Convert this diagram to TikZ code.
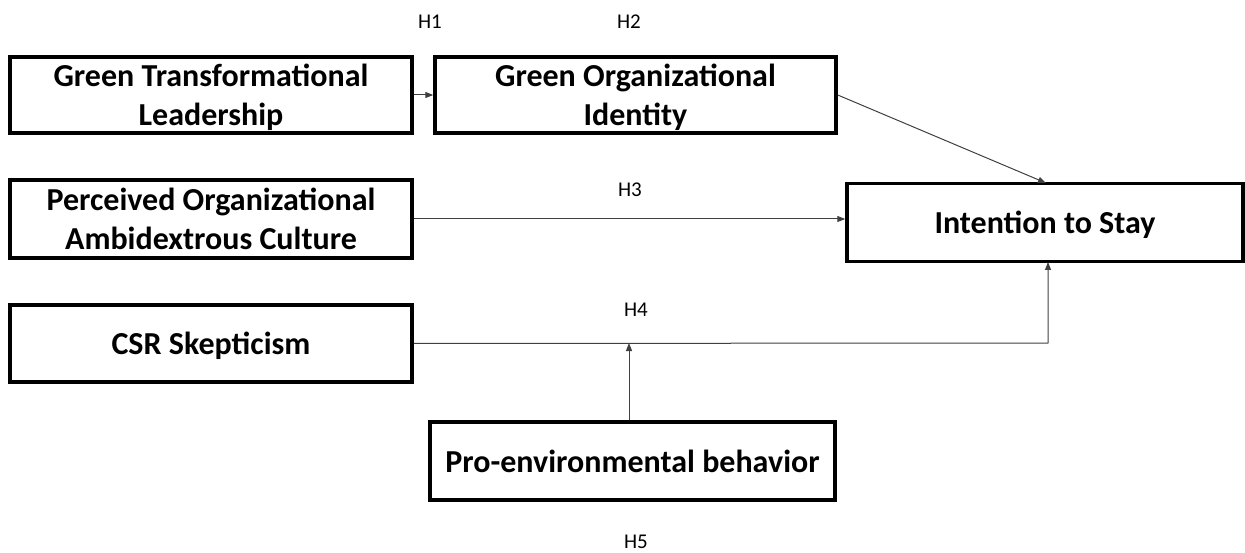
\documentclass[tikz,border=0pt]{standalone}
\usepackage{fontspec}
\setmainfont{Carlito}
\usetikzlibrary{arrows.meta}
\begin{document}
\begin{tikzpicture}[x=1pt,y=-1pt,
  box/.style={draw=black,line width=3.5pt,align=center,font=\bfseries\fontsize{32}{39}\selectfont,inner sep=0pt,text depth=0pt},
  lab/.style={font=\fontsize{21}{24}\selectfont,inner sep=0pt},
  conn/.style={draw=black!75,line width=1pt,-{Triangle[length=8pt,width=6pt]}}]
\useasboundingbox (0,0) rectangle (1245,553);
\node[box,minimum width=402pt,minimum height=76pt] (gtl) at (211,95) {Green Transformational\\Leadership};
\node[box,minimum width=401pt,minimum height=76pt] (goi) at (635.5,95) {Green Organizational\\Identity};
\node[box,minimum width=402pt,minimum height=78pt] (poac) at (211,219) {Perceived Organizational\\Ambidextrous Culture};
\node[box,minimum width=402pt,minimum height=77pt] (csr) at (211,343.5) {CSR Skepticism};
\node[box,minimum width=396pt,minimum height=78pt] (its) at (1045,222.5) {Intention to Stay};
\node[box,minimum width=405pt,minimum height=78pt] (peb) at (632.5,461) {Pro-environmental behavior};
\node[lab] (h1) at (430,22) {H1};
\node[lab] (h2) at (629,22) {H2};
\node[lab] (h3) at (630,190) {H3};
\node[lab] (h4) at (636,310) {H4};
\node[lab] (h5) at (636,542) {H5};
\coordinate (corner) at (1048,343);
\coordinate (join) at (629,343);
\coordinate (itsbot) at (1048,262);
\coordinate (itstop) at (1046,183);
\draw[conn] (gtl.east) -- (goi.west);
\draw[conn] (goi.east) -- (itstop);
\draw[conn] (poac.east) -- (its.west |- poac.east);
\draw[conn] (csr.east) -- (corner) -- (itsbot);
\draw[conn] (peb.north -| join) -- (join);
\end{tikzpicture}
\end{document}
